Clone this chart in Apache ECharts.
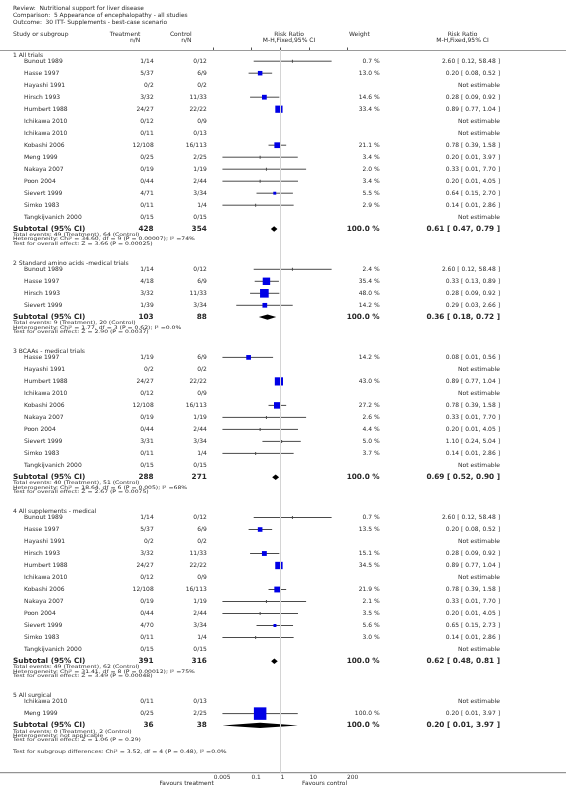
<!DOCTYPE html>
<html><head><meta charset="utf-8">
<script src="https://cdn.jsdelivr.net/npm/echarts@6/dist/echarts.min.js"></script>
<style>html,body{margin:0;padding:0;background:#fff}#c{width:566px;height:796px}</style>
</head><body><div id="c"></div>
<script>
// ---------------- DATA ----------------
const titleLines = ['Review:  Nutritional support for liver disease','Comparison:  5 Appearance of encephalopathy - all studies','Outcome:  30 ITT- Supplements - best-case scenario'];
const sectionTitles = ['1 All trials','2 Standard amino acids -medical trials','3 BCAAs - medical trials','4 All supplements - medical','5 All surgical'];

const s1Names = ['Bunout 1989','Hasse 1997','Hayashi 1991','Hirsch 1993','Humbert 1988','Ichikawa 2010','Ichikawa 2010','Kobashi 2006','Meng 1999','Nakaya 2007','Poon 2004','Sievert 1999','Simko 1983','Tangkijvanich 2000'];
const s1Treatment = ['1/14','5/37','0/2','3/32','24/27','0/12','0/11','12/108','0/25','0/19','0/44','4/71','0/11','0/15'];
const s1Control = ['0/12','6/9','0/2','11/33','22/22','0/9','0/13','16/113','2/25','1/19','2/44','3/34','1/4','0/15'];
const s1Weight = [0.7,13.0,null,14.6,33.4,null,null,21.1,3.4,2.0,3.4,5.5,2.9,null];
const s1RR = [2.60,0.20,null,0.28,0.89,null,null,0.78,0.20,0.33,0.20,0.64,0.14,null];
const s1Low = [0.12,0.08,null,0.09,0.77,null,null,0.39,0.01,0.01,0.01,0.15,0.01,null];
const s1High = [58.48,0.52,null,0.92,1.04,null,null,1.58,3.97,7.70,4.05,2.70,2.86,null];

const s2Names = ['Bunout 1989','Hasse 1997','Hirsch 1993','Sievert 1999'];
const s2Treatment = ['1/14','4/18','3/32','1/39'];
const s2Control = ['0/12','6/9','11/33','3/34'];
const s2Weight = [2.4,35.4,48.0,14.2];
const s2RR = [2.60,0.33,0.28,0.29];
const s2Low = [0.12,0.13,0.09,0.03];
const s2High = [58.48,0.89,0.92,2.66];

const s3Names = ['Hasse 1997','Hayashi 1991','Humbert 1988','Ichikawa 2010','Kobashi 2006','Nakaya 2007','Poon 2004','Sievert 1999','Simko 1983','Tangkijvanich 2000'];
const s3Treatment = ['1/19','0/2','24/27','0/12','12/108','0/19','0/44','3/31','0/11','0/15'];
const s3Control = ['6/9','0/2','22/22','0/9','16/113','1/19','2/44','3/34','1/4','0/15'];
const s3Weight = [14.2,null,43.0,null,27.2,2.6,4.4,5.0,3.7,null];
const s3RR = [0.08,null,0.89,null,0.78,0.33,0.20,1.10,0.14,null];
const s3Low = [0.01,null,0.77,null,0.39,0.01,0.01,0.24,0.01,null];
const s3High = [0.56,null,1.04,null,1.58,7.70,4.05,5.04,2.86,null];

const s4Names = ['Bunout 1989','Hasse 1997','Hayashi 1991','Hirsch 1993','Humbert 1988','Ichikawa 2010','Kobashi 2006','Nakaya 2007','Poon 2004','Sievert 1999','Simko 1983','Tangkijvanich 2000'];
const s4Treatment = ['1/14','5/37','0/2','3/32','24/27','0/12','12/108','0/19','0/44','4/70','0/11','0/15'];
const s4Control = ['0/12','6/9','0/2','11/33','22/22','0/9','16/113','1/19','2/44','3/34','1/4','0/15'];
const s4Weight = [0.7,13.5,null,15.1,34.5,null,21.9,2.1,3.5,5.6,3.0,null];
const s4RR = [2.60,0.20,null,0.28,0.89,null,0.78,0.33,0.20,0.65,0.14,null];
const s4Low = [0.12,0.08,null,0.09,0.77,null,0.39,0.01,0.01,0.15,0.01,null];
const s4High = [58.48,0.52,null,0.92,1.04,null,1.58,7.70,4.05,2.73,2.86,null];

const s5Names = ['Ichikawa 2010','Meng 1999'];
const s5Treatment = ['0/11','0/25'];
const s5Control = ['0/13','2/25'];
const s5Weight = [null,100.0];
const s5RR = [null,0.20];
const s5Low = [null,0.01];
const s5High = [null,3.97];

const subtotalTreatment = [428,103,288,391,36];
const subtotalControl = [354,88,271,316,38];
const subtotalWeight = [100.0,100.0,100.0,100.0,100.0];
const subtotalRR = [0.61,0.36,0.69,0.62,0.20];
const subtotalLow = [0.47,0.18,0.52,0.48,0.01];
const subtotalHigh = [0.79,0.72,0.90,0.81,3.97];
const totalEventsText = ['Total events: 49 (Treatment), 64 (Control)','Total events: 9 (Treatment), 20 (Control)','Total events: 40 (Treatment), 51 (Control)','Total events: 49 (Treatment), 62 (Control)','Total events: 0 (Treatment), 2 (Control)'];
const heterogeneityText = ['Heterogeneity: Chi² = 34.60, df = 9 (P = 0.00007); I² =74%','Heterogeneity: Chi² = 1.77, df = 3 (P = 0.62); I² =0.0%','Heterogeneity: Chi² = 18.64, df = 6 (P = 0.005); I² =68%','Heterogeneity: Chi² = 31.41, df = 8 (P = 0.00012); I² =75%','Heterogeneity: not applicable'];
const overallEffectText = ['Test for overall effect: Z = 3.66 (P = 0.00025)','Test for overall effect: Z = 2.90 (P = 0.0037)','Test for overall effect: Z = 2.67 (P = 0.0075)','Test for overall effect: Z = 3.49 (P = 0.00048)','Test for overall effect: Z = 1.06 (P = 0.29)'];
const subgroupTestText = 'Test for subgroup differences: Chi² = 3.52, df = 4 (P = 0.48), I² =0.0%';

const tickValues = [0.005, 0.1, 1, 10, 200];
const tickLabels = ['0.005','0.1','1','10','200'];
const favoursLeft = 'Favours treatment';
const favoursRight = 'Favours control';

// ---------------- LAYOUT / STYLE ----------------
const W = 566, H = 796;
const FONT = 'DejaVu Sans';
const TXT = '#2a2a2a';
const gridTop = 50, axisY = 772.7;
const gridLeft = 213.7, gridRightPx = 347.1;
const COL = { head: 13, name: 24, treat: 153.7, ctrl: 206.8, weight: 379.6, rr: 500 };
const FS = { row: 6.0, small: 4.7, smallScaleX: 1.3, bold: 7.3, title: 5.9, tick: 5.9 };
const L = { first: 5.3, headToStudy: 5.9, study: 12.0, toSubtotal: 11.8, subToTE: 5.9, line: 4.3, testToHead: 19.9, testToFooter: 12.0 };

const sections = [
  [s1Names,s1Treatment,s1Control,s1Weight,s1RR,s1Low,s1High],
  [s2Names,s2Treatment,s2Control,s2Weight,s2RR,s2Low,s2High],
  [s3Names,s3Treatment,s3Control,s3Weight,s3RR,s3Low,s3High],
  [s4Names,s4Treatment,s4Control,s4Weight,s4RR,s4Low,s4High],
  [s5Names,s5Treatment,s5Control,s5Weight,s5RR,s5Low,s5High]
];
const lg = v => Math.log10(v);
const f2 = v => v.toFixed(2);
const ciText = (r,l,h) => f2(r) + ' [ ' + f2(l) + ', ' + f2(h) + ' ]';

// rows are laid out top to bottom in grid units (pixels below the header rule)
const rows = [];
const ciData = [];    // [lo, hi, y, weight, rr]
const dmData = [];    // [lo, rr, hi, y]
let y = L.first;
sections.forEach((sec, si) => {
  const [nm, tr, ct, wt, rr, lo, hi] = sec;
  rows.push({kind:'head', y, text: sectionTitles[si]});
  y += L.headToStudy;
  nm.forEach((n, j) => {
    if (j > 0) y += L.study;
    rows.push({kind:'study', y, name:n, treat:tr[j], ctrl:ct[j],
      weight: wt[j] == null ? '' : wt[j].toFixed(1) + ' %',
      rr: rr[j] == null ? 'Not estimable' : ciText(rr[j], lo[j], hi[j])});
    if (rr[j] != null) ciData.push([lg(lo[j]), lg(hi[j]), y, wt[j], lg(rr[j])]);
  });
  y += L.toSubtotal;
  rows.push({kind:'subtotal', y, treat:String(subtotalTreatment[si]), ctrl:String(subtotalControl[si]),
    weight: subtotalWeight[si].toFixed(1) + ' %', rr: ciText(subtotalRR[si], subtotalLow[si], subtotalHigh[si])});
  dmData.push([lg(subtotalLow[si]), lg(subtotalRR[si]), lg(subtotalHigh[si]), y]);
  y += L.subToTE; rows.push({kind:'note', y, text: totalEventsText[si]});
  y += L.line; rows.push({kind:'note', y, text: heterogeneityText[si]});
  y += L.line; rows.push({kind:'note', y, text: overallEffectText[si]});
  if (si < sections.length - 1) y += L.testToHead; else y += L.testToFooter;
});
rows.push({kind:'note', y, text: subgroupTestText});

function t(x, yy, text, fs, align, bold) {
  return {type:'text', style:{x, y:yy, text, fill:TXT, fontSize:fs, fontFamily:FONT,
    fontWeight: bold ? 'bold' : 'normal', align: align || 'left', verticalAlign:'middle'}};
}
function note(x, yy, text) {
  return {type:'text', x, y:yy, scaleX:FS.smallScaleX, style:{x:0, y:0, text, fill:TXT, fontSize:FS.small, fontFamily:FONT,
    align:'left', verticalAlign:'middle'}};
}

const chart = echarts.init(document.getElementById('c'), null, {renderer:'canvas'});
const header = [];
titleLines.forEach((s, i) => header.push({type:'text', x:13, y:8 + i*7, style:{text:s, fill:TXT, fontSize:FS.title, fontFamily:FONT, align:'left', verticalAlign:'middle'}}));
const hdr = (x, yy, s, al) => ({type:'text', x, y:yy, style:{text:s, fill:TXT, fontSize:FS.row, fontFamily:FONT, align:al, verticalAlign:'middle'}});
header.push(hdr(13, 34.5, 'Study or subgroup', 'left'));
header.push(hdr(140.3, 34.5, 'Treatment', 'right'), hdr(140.3, 40, 'n/N', 'right'));
header.push(hdr(191.6, 34.5, 'Control', 'right'), hdr(191.6, 40, 'n/N', 'right'));
header.push(hdr(289, 34.5, 'Risk Ratio', 'center'), hdr(289, 40, 'M-H,Fixed,95% CI', 'center'));
header.push(hdr(349, 34.5, 'Weight', 'left'));
header.push(hdr(462.5, 34.5, 'Risk Ratio', 'center'), hdr(462.5, 40, 'M-H,Fixed,95% CI', 'center'));
header.push({type:'line', shape:{x1:0, y1:gridTop + 0.5, x2:W, y2:gridTop + 0.5}, style:{stroke:'#9a9a9a', lineWidth:1}});
header.push({type:'line', shape:{x1:0, y1:axisY, x2:W, y2:axisY}, style:{stroke:'#7a7a7a', lineWidth:1}});
header.push({type:'text', x:gridLeft, y:783.5, style:{text:favoursLeft, fill:TXT, fontSize:FS.tick, fontFamily:FONT, align:'right', verticalAlign:'middle'}});
header.push({type:'text', x:gridRightPx, y:783.5, style:{text:favoursRight, fill:TXT, fontSize:FS.tick, fontFamily:FONT, align:'right', verticalAlign:'middle'}});

const option = {
  animation: false,
  backgroundColor: '#fff',
  grid: {left: gridLeft, right: W - gridRightPx, top: gridTop, bottom: H - axisY, containLabel: false},
  xAxis: {type:'value', min: lg(tickValues[0]), max: lg(tickValues[tickValues.length-1]),
    axisLine:{show:false}, splitLine:{show:false},
    axisTick:{show:true, inside:true, length:2.5, customValues: tickValues.map(lg), lineStyle:{color:'#555', width:1}},
    axisLabel:{show:true, customValues: tickValues.map(lg), align:'left', margin:1.5, fontSize:FS.tick, fontFamily:FONT, color:TXT,
      formatter: v => { const i = tickValues.findIndex(tv => Math.abs(lg(tv) - v) < 1e-6); return i >= 0 ? tickLabels[i] : ''; }}},
  yAxis: {type:'value', inverse:true, min:0, max: axisY - gridTop, show:false},
  graphic: header,
  series: [
    {type:'custom', name:'ci', silent:true, clip:false, encode:{x:[0,1,4], y:2}, data: ciData,
      renderItem: (params, api) => {
        const yy = api.value(2);
        const p1 = api.coord([api.value(0), yy]);
        const p2 = api.coord([api.value(1), yy]);
        const pc = api.coord([api.value(4), yy]);
        const w = api.value(3);
        const ch = [{type:'line', shape:{x1:p1[0], y1:p1[1], x2:p2[0], y2:p2[1]}, style:{stroke:'#4a4a4a', lineWidth:1}}];
        if (w >= 5.2) {
          const s = Math.max(2.8, 12.5 * Math.sqrt(w / 100));
          ch.push({type:'rect', shape:{x:pc[0]-s/2, y:pc[1]-s/2, width:s, height:s}, style:{fill:'#0000e6'}});
        } else {
          ch.push({type:'rect', shape:{x:pc[0]-0.5, y:pc[1]-1.5, width:1, height:3}, style:{fill:'#4a4a4a'}});
        }
        return {type:'group', children: ch};
      },
      markLine:{silent:true, symbol:'none', label:{show:false}, data:[{xAxis:0}], lineStyle:{color:'#d4d4d4', width:1, type:'solid'}}
    },
    {type:'custom', name:'diamond', silent:true, clip:false, encode:{x:[0,1,2], y:3}, data: dmData,
      renderItem: (params, api) => {
        const yy = api.value(3);
        const a = api.coord([api.value(0), yy]), c = api.coord([api.value(1), yy]), b = api.coord([api.value(2), yy]);
        const h = 2.7;
        return {type:'polygon', shape:{points:[[a[0], a[1]], [c[0], c[1]-h], [b[0], b[1]], [c[0], c[1]+h]]}, style:{fill:'#000'}};
      }
    },
    {type:'custom', name:'text', silent:true, clip:false, encode:{x:0, y:1}, data: rows.map(r => [0, r.y]),
      renderItem: (params, api) => {
        const r = rows[params.dataIndex];
        const py = api.coord([0, api.value(1)])[1];
        const ch = [];
        if (r.kind === 'head') ch.push(t(COL.head, py, r.text, FS.row));
        else if (r.kind === 'note') ch.push(note(COL.head, py, r.text));
        else if (r.kind === 'study') {
          ch.push(t(COL.name, py, r.name, FS.row), t(COL.treat, py, r.treat, FS.row, 'right'), t(COL.ctrl, py, r.ctrl, FS.row, 'right'),
                  t(COL.weight, py, r.weight, FS.row, 'right'), t(COL.rr, py, r.rr, FS.row, 'right'));
        } else if (r.kind === 'subtotal') {
          ch.push(t(COL.head, py, 'Subtotal (95% CI)', FS.bold, 'left', true), t(COL.treat, py, r.treat, FS.bold, 'right', true),
                  t(COL.ctrl, py, r.ctrl, FS.bold, 'right', true), t(COL.weight, py, r.weight, FS.bold, 'right', true),
                  t(COL.rr, py, r.rr, FS.bold, 'right', true));
        }
        return {type:'group', children: ch};
      }
    }
  ]
};
chart.setOption(option);
</script></body></html>
